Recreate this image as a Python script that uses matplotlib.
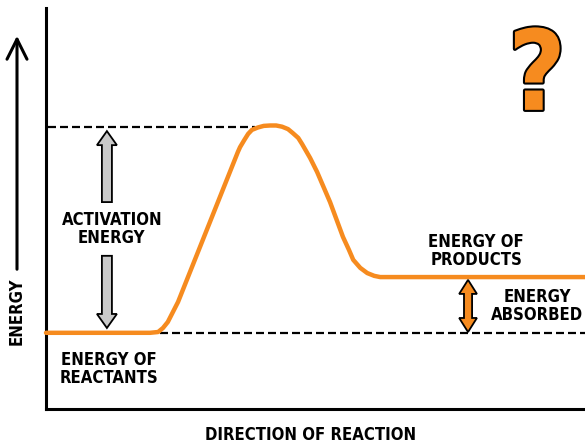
import numpy as np
import matplotlib
matplotlib.use("Agg")
import matplotlib.pyplot as plt
from matplotlib.patches import Polygon, FancyArrowPatch
from matplotlib.font_manager import FontProperties, findfont
import matplotlib.patheffects as pe

# reaction coordinate (0-100) and energy (0-100)
progress = [0, 19.3, 20.8, 21.7, 22.6, 24.5, 35.6, 36.0, 36.8, 37.5, 38.2, 39.3,
            40.4, 41.6, 42.7, 43.8, 44.9, 45.8, 46.8, 47.5, 49.0, 50.3, 52.7,
            55.1, 56.2, 57.0, 58.3, 59.6, 60.9, 62.0, 100]
energy = [19.0, 19.0, 19.2, 20.2, 21.7, 26.7, 64.1, 65.3, 67.1, 68.6, 69.6, 70.2,
          70.6, 70.7, 70.7, 70.4, 69.8, 68.8, 67.6, 66.1, 62.6, 59.1, 51.6,
          42.9, 39.7, 37.2, 35.2, 33.9, 33.2, 32.9, 32.9]

E_REACTANTS = 19.0
E_PEAK = 70.3
E_PRODUCTS = 32.9
PEAK_AT = 38.8      # where the top dashed line stops
DASH_START = 21.2   # where the bottom dashed line starts

ORANGE = "#F68B1F"
GRAY = "#C9C9C9"

# narrow bold face if the condensed DejaVu is around, plain bold otherwise
_cond = FontProperties(family="DejaVu Sans", weight="bold", stretch="condensed")
if "Condensed" in findfont(_cond):
    FONT_KW = dict(family="DejaVu Sans", stretch="condensed", fontsize=12)
else:
    FONT_KW = dict(family="DejaVu Sans", fontsize=10.5)


def vertical_arrow(ax, x, y_tail, y_tip, shaft_w, head_w, head_len, both=False, **kw):
    """Block arrow along y, optionally with a head at both ends."""
    s = np.sign(y_tip - y_tail)
    hl = head_len * s
    pts = [(x, y_tip), (x + head_w / 2, y_tip - hl), (x + shaft_w / 2, y_tip - hl)]
    if both:
        pts += [(x + shaft_w / 2, y_tail + hl), (x + head_w / 2, y_tail + hl), (x, y_tail),
                (x - head_w / 2, y_tail + hl), (x - shaft_w / 2, y_tail + hl)]
    else:
        pts += [(x + shaft_w / 2, y_tail), (x - shaft_w / 2, y_tail)]
    pts += [(x - shaft_w / 2, y_tip - hl), (x - head_w / 2, y_tip - hl)]
    ax.add_patch(Polygon(pts, closed=True, **kw))


fig = plt.figure(figsize=(5.85, 4.45), dpi=100)
ax = fig.add_axes([46 / 585, 36 / 445, 539 / 585, 401 / 445])
ax.set_xlim(0, 100)
ax.set_ylim(0, 100)
ax.set_xticks([])
ax.set_yticks([])
for side in ("top", "right"):
    ax.spines[side].set_visible(False)
for side in ("left", "bottom"):
    ax.spines[side].set_linewidth(2.2)
    ax.spines[side].set_color("black")

dash = dict(color="black", lw=1.6, linestyle=(0, (3.6, 1.8)))
ax.plot([0.4, PEAK_AT], [E_PEAK, E_PEAK], **dash)
ax.plot([DASH_START, 100], [E_REACTANTS, E_REACTANTS], **dash)

ax.plot(progress, energy, color=ORANGE, lw=3.2, solid_capstyle="round",
        solid_joinstyle="round", zorder=3, clip_on=False)

# activation energy arrows
vertical_arrow(ax, 11.3, 51.6, E_PEAK - 1.0, 1.86, 3.7, 3.5,
               facecolor=GRAY, edgecolor="black", lw=1.3, zorder=4)
vertical_arrow(ax, 11.3, 38.2, E_REACTANTS + 1.2, 1.86, 3.7, 3.5,
               facecolor=GRAY, edgecolor="black", lw=1.3, zorder=4)
# energy absorbed arrow
vertical_arrow(ax, 78.3, E_REACTANTS + 0.2, E_PRODUCTS - 0.7, 1.5, 3.3, 3.5, both=True,
               facecolor=ORANGE, edgecolor="black", lw=1.3, zorder=4)

txt = dict(weight="bold", ha="center", va="center", linespacing=1.05,
           color="black", **FONT_KW)
ax.text(12.2, 44.9, "ACTIVATION\nENERGY", **txt)
ax.text(11.7, 10.0, "ENERGY OF\nREACTANTS", **txt)
ax.text(79.8, 39.4, "ENERGY OF\nPRODUCTS", **txt)
ax.text(91.1, 25.7, "ENERGY\nABSORBED", **txt)

ax.text(91.1, 74.6, "?", family="DejaVu Sans", stretch="condensed", weight="bold",
        fontsize=80, ha="center", va="baseline", color=ORANGE,
        path_effects=[pe.withStroke(linewidth=3, foreground="black")])

fig.text(311 / 585, 1 - 435 / 445, "DIRECTION OF REACTION", **txt)
fig.text(17 / 585, 1 - 311 / 445, "ENERGY", rotation=90, **txt)
fig.patches.append(FancyArrowPatch(
    (17 / 585, 1 - 272 / 445), (17 / 585, 1 - 33 / 445), transform=fig.transFigure,
    arrowstyle="->,head_length=0.72,head_width=0.36", mutation_scale=20,
    lw=2.2, color="black"))

fig.savefig("out.png", dpi=100)
